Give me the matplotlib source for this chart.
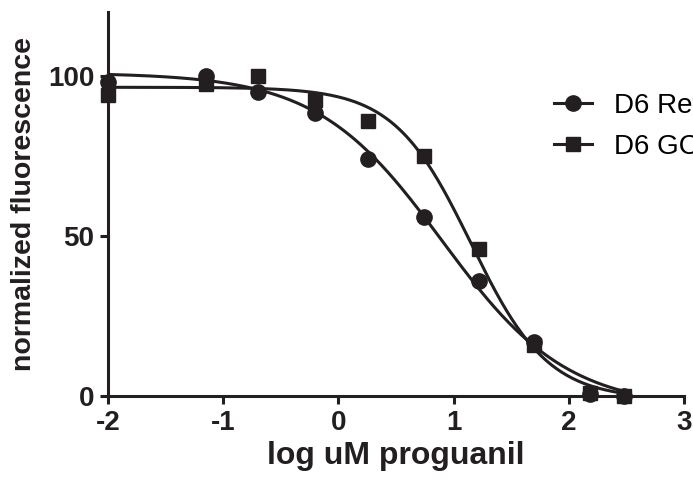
import numpy as np
import matplotlib
matplotlib.use("Agg")
import matplotlib.pyplot as plt

plt.rcParams['font.family'] = ['Liberation Sans', 'DejaVu Sans']
plt.rcParams['axes.unicode_minus'] = False

# log uM proguanil
log_dose = [-2.0, -1.15, -0.7, -0.2, 0.26, 0.74, 1.22, 1.7, 2.18, 2.48]
circle_vals = [98, 100, 95, 88.5, 74, 56, 36, 17, 0.5, 0]
square_vals = [94, 97.5, 100, 92.5, 86, 75, 46, 16, 1, 0]
labels = ["D6 Ref", "D6 GC"]

# four-parameter logistic fit parameters (bottom, top, logIC50, hill)
circle_fit = (-4.0, 101.0, 0.9, 0.8)
square_fit = (-1.0, 96.5, 1.15, 1.3)


def four_pl(x, bottom, top, c, h):
    return bottom + (top - bottom) / (1 + 10 ** ((x - c) * h))


fig = plt.figure(figsize=(6.93, 4.84), dpi=100)
ax = fig.add_axes([0.156, 0.182, 0.831, 0.793])

col = '#231f20'
xs = np.linspace(min(log_dose), max(log_dose), 300)
ax.plot(xs, four_pl(xs, *circle_fit), color=col, lw=2.2)
ax.plot(xs, four_pl(xs, *square_fit), color=col, lw=2.2)
ax.plot(log_dose, circle_vals, 'o', color=col, ms=11, clip_on=False)
ax.plot(log_dose, square_vals, 's', color=col, ms=10.5, clip_on=False)

# legend handles (line + marker)
h1, = ax.plot([], [], '-o', color=col, lw=2.2, ms=11)
h2, = ax.plot([], [], '-s', color=col, lw=2.2, ms=10.5)
ax.legend([h1, h2], labels, loc='upper left', bbox_to_anchor=(0.775, 0.79),
          frameon=False, fontsize=20, handlelength=1.35, handletextpad=0.8,
          labelspacing=0.55, borderaxespad=0, borderpad=0)

ax.set_xlim(-2, 3)
ax.set_ylim(0, 120)
ax.set_xticks([-2, -1, 0, 1, 2, 3])
ax.set_yticks([0, 50, 100])
for s in ['top', 'right']:
    ax.spines[s].set_visible(False)
for s in ['left', 'bottom']:
    ax.spines[s].set_linewidth(2.2)
    ax.spines[s].set_color(col)
ax.tick_params(width=2.2, length=6, color=col, labelsize=20, labelcolor=col, pad=4)
for t in ax.get_xticklabels() + ax.get_yticklabels():
    t.set_fontweight('bold')
ax.set_xlabel('log uM proguanil', fontsize=23, fontweight='bold', labelpad=4, color=col)
ax.set_ylabel('normalized fluorescence', fontsize=20.5, fontweight='bold', labelpad=8, color=col)

fig.savefig('out.png', dpi=100)
